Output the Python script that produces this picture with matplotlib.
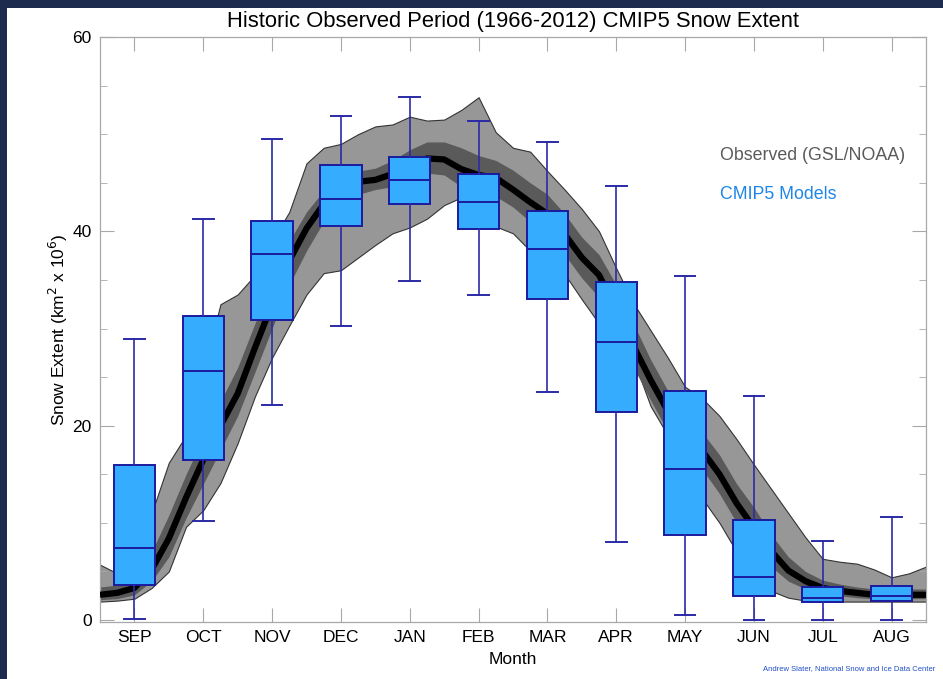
import numpy as np
import matplotlib.pyplot as plt
from matplotlib.patches import Rectangle
from matplotlib.ticker import MultipleLocator

plt.rcParams['font.family'] = ['Liberation Sans', 'DejaVu Sans']

# CMIP5 model spread per month (box plot stats)
months = ['SEP', 'OCT', 'NOV', 'DEC', 'JAN', 'FEB', 'MAR', 'APR', 'MAY', 'JUN', 'JUL', 'AUG']
whis_lo = [0.1, 10.2, 22.1, 30.3, 34.9, 33.4, 23.5, 8.0, 0.5, 0.0, 0.0, 0.0]
q1 = [3.6, 16.5, 30.9, 40.5, 42.8, 40.2, 33.0, 21.4, 8.8, 2.5, 1.9, 2.0]
med = [7.4, 25.6, 37.7, 43.3, 45.3, 43.0, 38.2, 28.6, 15.5, 4.4, 2.3, 2.5]
q3 = [16.0, 31.3, 41.1, 46.8, 47.7, 45.9, 42.1, 34.8, 23.6, 10.3, 3.4, 3.5]
whis_hi = [28.9, 41.3, 49.5, 51.9, 53.8, 51.4, 49.2, 44.7, 35.4, 23.1, 8.1, 10.6]

# observed record, sampled every quarter month from 1 Sep to 31 Aug
season_pos = np.arange(-0.5, 11.51, 0.25)
obs_mean = [2.6, 2.8, 3.3, 5.2, 8.4, 12.6, 16.5, 20.0, 23.3, 28.0, 32.5, 37.0, 40.3, 42.8,
            44.0, 45.1, 45.3, 45.9, 46.7, 47.5, 47.4, 46.4, 45.8, 45.5, 44.3, 43.0, 41.8,
            39.7, 37.3, 35.5, 32.0, 28.2, 24.7, 21.5, 19.0, 17.4, 15.0, 12.0, 9.5, 7.1,
            5.1, 4.0, 3.3, 3.0, 2.8, 2.6, 2.6, 2.6, 2.6]
obs_max = [5.7, 4.8, 5.0, 11.0, 16.2, 19.0, 25.5, 32.5, 33.5, 35.5, 39.0, 42.0, 47.0, 48.6,
           49.0, 50.0, 50.8, 51.0, 51.8, 51.4, 51.5, 52.5, 53.8, 50.2, 48.6, 48.2, 46.2,
           44.3, 42.3, 40.0, 36.2, 32.6, 29.8, 27.0, 24.0, 22.8, 21.0, 18.6, 16.0, 13.5,
           11.0, 8.5, 6.3, 6.0, 5.8, 5.2, 4.4, 4.8, 5.5]
obs_min = [1.9, 2.0, 2.2, 3.3, 5.0, 9.6, 11.3, 14.1, 18.2, 23.0, 27.0, 30.3, 33.5, 35.7,
           36.0, 37.3, 38.6, 39.8, 40.4, 41.3, 42.7, 43.5, 41.5, 40.5, 39.8, 38.0, 37.0,
           35.6, 33.0, 30.5, 28.5, 26.8, 22.0, 19.0, 16.0, 12.5, 10.0, 7.0, 4.5, 3.0,
           2.3, 2.0, 1.9, 1.9, 1.9, 1.9, 1.9, 1.9, 1.9]
obs_sd_hi = [3.4, 3.6, 4.3, 7.0, 10.8, 15.0, 18.8, 22.5, 26.0, 30.5, 35.0, 39.0, 42.0, 44.2,
             45.3, 46.2, 46.5, 47.3, 48.4, 49.2, 49.2, 48.6, 47.8, 47.3, 46.3, 45.0, 43.8,
             41.8, 39.4, 37.6, 34.5, 30.5, 26.8, 23.6, 21.0, 19.3, 17.0, 14.0, 11.6, 8.8,
             6.5, 5.0, 4.1, 3.7, 3.4, 3.2, 3.2, 3.2, 3.2]
obs_sd_lo = [2.1, 2.2, 2.6, 4.0, 6.5, 10.5, 14.0, 17.5, 21.0, 25.5, 30.0, 34.5, 38.0, 41.0,
             42.5, 43.8, 44.3, 44.6, 45.2, 46.0, 45.8, 44.6, 44.0, 43.6, 42.5, 41.0, 39.8,
             37.6, 35.2, 33.2, 29.8, 26.0, 22.6, 19.4, 17.0, 15.5, 13.0, 10.0, 7.6, 5.5,
             4.0, 3.2, 2.7, 2.5, 2.3, 2.2, 2.2, 2.2, 2.2]

fig = plt.figure(figsize=(9.43, 6.79), dpi=100)
fig.patch.set_facecolor('#1d2b4f')
fig.patches.append(Rectangle((7 / 943, 0), 1, 1 - 8 / 679, transform=fig.transFigure,
                             facecolor='white', edgecolor='none', zorder=-10))

ax = fig.add_axes([100 / 943, 57 / 679, 826 / 943, 585 / 679])

ax.fill_between(season_pos, obs_min, obs_max, color='#979797', edgecolor='#333333',
                linewidth=0.8, zorder=1)
ax.fill_between(season_pos, obs_sd_lo, obs_sd_hi, color='#5a5a5a', linewidth=0, zorder=2)
ax.plot(season_pos, obs_mean, color='black', linewidth=4.5, solid_capstyle='butt', zorder=3)

stats = []
for i in range(len(months)):
    stats.append({'whislo': whis_lo[i], 'q1': q1[i], 'med': med[i], 'q3': q3[i],
                  'whishi': whis_hi[i], 'label': months[i]})

ax.bxp(stats, positions=range(len(months)), widths=0.6, capwidths=0.3,
       showfliers=False, patch_artist=True,
       boxprops=dict(facecolor='#36acff', edgecolor='#1b1b9e', linewidth=1.4),
       medianprops=dict(color='#1b1b9e', linewidth=1.4),
       whiskerprops=dict(color='#2a2aa6', linewidth=1.2),
       capprops=dict(color='#2a2aa6', linewidth=1.4), zorder=4)

ax.set_xlim(-0.5, 11.5)
ax.set_ylim(-0.2, 60)
ax.set_xticks(range(len(months)))
ax.set_xticklabels(months)
ax.set_yticks([0, 20, 40, 60])
ax.yaxis.set_minor_locator(MultipleLocator(5))
ax.tick_params(axis='both', which='both', direction='in', top=True, right=True,
               color='#a8a8a8', labelsize=12.5, labelcolor='black')
ax.tick_params(axis='x', which='major', length=10, pad=6)
ax.tick_params(axis='y', which='major', length=10, pad=6)
ax.tick_params(axis='y', which='minor', length=5)
for s in ax.spines.values():
    s.set_color('#a8a8a8')
    s.set_linewidth(0.9)

ax.set_xlabel('Month', fontsize=12.5, labelpad=5)
ax.set_ylabel('Snow Extent (km$^2$ x 10$^6$)', fontsize=12.5, labelpad=2)
ax.set_title('Historic Observed Period (1966-2012) CMIP5 Snow Extent',
             fontsize=15.8, pad=7)

ax.text(0.751, 0.797, 'Observed (GSL/NOAA)', transform=ax.transAxes, fontsize=12.8,
        color='#5a5a5a', va='center')
ax.text(0.751, 0.730, 'CMIP5 Models', transform=ax.transAxes, fontsize=12.8,
        color='#1f86e8', va='center')
fig.text(0.992, 0.01, 'Andrew Slater, National Snow and Ice Data Center', fontsize=5.5,
         color='#2050c8', ha='right', va='bottom')

plt.savefig('out.png', dpi=100, facecolor=fig.get_facecolor())
